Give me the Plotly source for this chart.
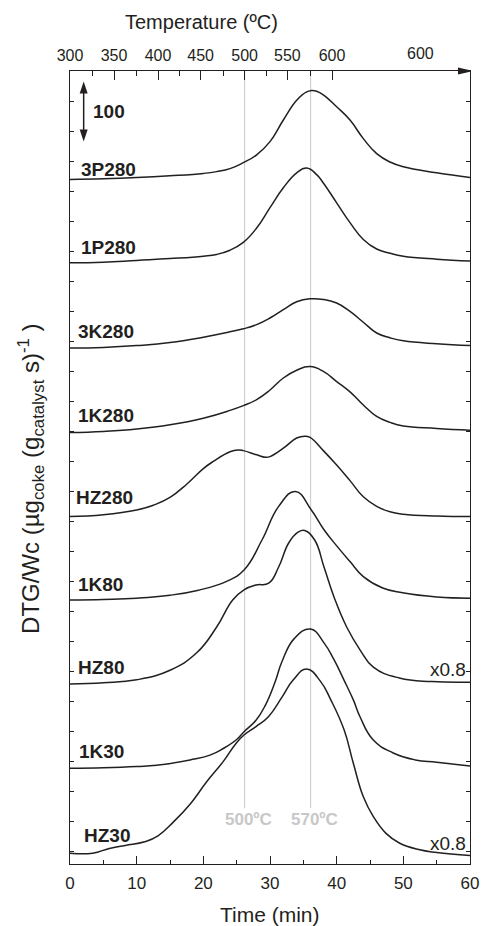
import plotly.graph_objects as go

FONT = "Liberation Sans, Arial, Helvetica, sans-serif"
INK = "#231f20"
GUIDE = "#c8c8c8"

# ---- DTG profiles: time (min) and signal above each curve's own baseline ----
t_3p280 = [0, 5, 10, 15, 20, 22, 24, 26, 28, 30, 32, 34, 35.5, 36.2, 37, 38, 40, 42, 44, 46, 48, 50, 55, 60]
v_3p280 = [0, 1, 3, 6, 10, 13, 18, 28, 41, 63, 99, 132, 146, 148, 147, 141, 121, 99, 68, 43, 29, 21, 11, 3]

t_1p280 = [0, 5, 10, 15, 20, 22, 24, 26, 28, 30, 32, 34, 35.5, 37, 38, 40, 42, 44, 46, 48, 50, 55, 60]
v_1p280 = [0, 1, 4, 7, 11, 14, 21, 34, 58, 92, 125, 150, 158, 147, 133, 100, 67, 39, 23, 16, 11, 6, 3]

t_3k280 = [0, 5, 10, 15, 20, 24, 26, 28, 30, 32, 34, 36, 38, 40, 42, 44, 46, 48, 50, 55, 60]
v_3k280 = [0, 1, 4, 9, 18, 27, 32, 39, 50, 64, 77, 82, 81, 75, 61, 43, 25, 17, 12, 7, 4]

t_1k280 = [0, 5, 10, 15, 20, 24, 26, 28, 30, 32, 34, 36, 38, 40, 42, 44, 46, 48, 50, 55, 60]
v_1k280 = [0, 2, 6, 13, 24, 37, 45, 55, 71, 91, 104, 110, 102, 85, 68, 46, 27, 17, 11, 7, 4]

t_hz280 = [0, 5, 10, 12.5, 15, 17.5, 20, 21.5, 24, 25.2, 26, 28, 29.3, 30, 32, 34, 35.2, 36, 38, 40, 42, 44, 46, 48, 50, 55, 60]
v_hz280 = [0, 3, 11, 19, 32, 54, 80, 92, 108, 111, 110, 103, 99, 100, 114, 131, 134, 132, 110, 86, 60, 33, 17, 8, 4, 1, 0]

t_1k80 = [0, 5, 10, 15, 19.1, 23.5, 26.1, 28.8, 31.3, 33.8, 36.2, 38.1, 40.1, 42, 44, 46.9, 49.9, 55, 60]
v_1k80 = [0, 1, 3, 8, 16, 31, 50, 100, 156, 181, 150, 117, 89, 64, 39, 20, 12, 5, 3]

t_hz80 = [0, 5, 10, 15, 19, 22, 24.4, 26.1, 27.9, 29.8, 31.3, 32.8, 34.2, 35.2, 36.7, 38.1, 39.6, 41.5, 43.5, 45.5, 49.4, 54.3, 60]
v_hz80 = [0, 2, 7, 23, 52, 95, 140, 157, 165, 168, 195, 235, 253, 256, 240, 195, 145, 95, 57, 28, 10, 4, 3]

t_1k30 = [0, 5, 10, 13, 18, 21, 23, 25, 26.1, 27.9, 29.3, 30.8, 31.8, 33.7, 36.1, 38.1, 39.6, 41.1, 42.5, 43.5, 45.5, 48.4, 51.8, 55, 60]
v_1k30 = [0, 1, 3, 5, 14, 22, 33, 48, 61, 80, 105, 145, 178, 217, 232, 209, 181, 147, 114, 86, 47, 26, 14, 10, 4]

t_hz30 = [0, 3.4, 5.9, 8.3, 11.2, 13.2, 15.6, 18.1, 20.5, 23, 24.9, 26.1, 27.9, 29.8, 31.8, 33.5, 35.5, 37.6, 39.1, 41.1, 42.5, 44, 45.5, 47.4, 49.4, 52.3, 55, 60]
v_hz30 = [0, 0, 8, 13, 19, 29, 53, 83, 119, 153, 183, 197, 211, 228, 260, 289, 307, 286, 256, 206, 150, 94, 61, 33, 17, 6, 1, -4]

samples = ["3P280", "1P280", "3K280", "1K280", "HZ280", "1K80", "HZ80", "1K30", "HZ30"]
series_t = [t_3p280, t_1p280, t_3k280, t_1k280, t_hz280, t_1k80, t_hz80, t_1k30, t_hz30]
series_v = [v_3p280, v_1p280, v_3k280, v_1k280, v_hz280, v_1k80, v_hz80, v_1k30, v_hz30]
baselines = [1141, 1002, 860, 719, 579, 440, 300, 159.5, 18]
multipliers = ["", "", "", "", "", "", "x0.8", "", "x0.8"]

# ---- top temperature scale (ramp to 600 ºC, then isothermal hold) ----
temp_labels = ["300", "350", "400", "450", "500", "550", "600"]
temp_tick_t = [0, 6.6, 13.2, 19.6, 26.2, 32.6, 39.3]
temp_minor_t = [3.3, 9.9, 16.4, 23.0, 29.5, 36.1]
hold_label = "600"
hold_t = 52.5

guide_labels = ["500ºC", "570ºC"]
guide_t = [26.2, 36.1]

scale_bar = 100

Y_TOP = 1321.7

# label placement (pixel nudges)
label_dx = [9, 9, 6, 6, 4, 6, 6, 7, 12]
label_dy = [-3, 3, 4, 5, 7, 3, 4, 4, 5]
mult_dy = [0, 0, 0, 0, 0, 0, 2, 0, -2.5]

fig = go.Figure()

for name, t, v, b in zip(samples, series_t, series_v, baselines):
    fig.add_trace(go.Scatter(
        x=t, y=[b + val for val in v], mode="lines", name=name,
        line=dict(color=INK, width=1.5, shape="spline", smoothing=1.3),
        showlegend=False, hoverinfo="skip",
    ))

# carrier for the top temperature axis
fig.add_trace(go.Scatter(x=[0, 60], y=[None, None], xaxis="x2", mode="lines",
                         showlegend=False, hoverinfo="skip"))

shapes = []
annotations = []

# guide lines at 500 and 570 ºC
for lab, gt in zip(guide_labels, guide_t):
    shapes.append(dict(type="line", xref="x", yref="y", x0=gt, x1=gt, y0=93, y1=Y_TOP,
                       line=dict(color=GUIDE, width=1), layer="below"))
    annotations.append(dict(x=gt, y=75, xref="x", yref="y", text="<b>%s</b>" % lab,
                            showarrow=False, xanchor="center", yanchor="middle", xshift=4,
                            font=dict(family=FONT, size=17, color=GUIDE)))

# arrowhead at the end of the top axis
shapes.append(dict(type="path", xref="x", yref="paper", xsizemode="pixel", ysizemode="pixel",
                   xanchor=60, yanchor=1, path="M -12,-3.5 L 3,0 L -12,3.5 Z",
                   fillcolor=INK, line=dict(width=0)))

# vertical scale bar
bar_x = 2.05
bar_top = 1304
bar_bot = bar_top - scale_bar
shapes.append(dict(type="line", xref="x", yref="y", x0=bar_x, x1=bar_x, y0=bar_bot + 8, y1=bar_top - 8,
                   line=dict(color=INK, width=1.5)))
shapes.append(dict(type="path", xref="x", yref="y", xsizemode="pixel", ysizemode="pixel",
                   xanchor=bar_x, yanchor=bar_top, path="M -4,-12 L 0,0 L 4,-12 Z",
                   fillcolor=INK, line=dict(width=0)))
shapes.append(dict(type="path", xref="x", yref="y", xsizemode="pixel", ysizemode="pixel",
                   xanchor=bar_x, yanchor=bar_bot, path="M -4,12 L 0,0 L 4,12 Z",
                   fillcolor=INK, line=dict(width=0)))
annotations.append(dict(x=bar_x, y=(bar_top + bar_bot) / 2, xref="x", yref="y",
                        text="<b>%d</b>" % scale_bar, showarrow=False, xanchor="left",
                        yanchor="middle", xshift=7, font=dict(family=FONT, size=19, color=INK)))

# sample labels and scaling notes
for i, (name, b) in enumerate(zip(samples, baselines)):
    annotations.append(dict(x=0, y=b, xref="x", yref="y", text="<b>%s</b>" % name,
                            showarrow=False, xanchor="left", yanchor="bottom",
                            xshift=label_dx[i], yshift=label_dy[i],
                            font=dict(family=FONT, size=19, color=INK)))
    if multipliers[i]:
        annotations.append(dict(x=1, y=b, xref="paper", yref="y", text=multipliers[i],
                                showarrow=False, xanchor="right", yanchor="bottom",
                                xshift=-2, yshift=mult_dy[i],
                                font=dict(family=FONT, size=19, color=INK)))

# isothermal segment label on the top scale
annotations.append(dict(x=hold_t, y=1, xref="x", yref="paper", text=hold_label, showarrow=False,
                        xanchor="center", yanchor="bottom", yshift=7,
                        font=dict(family=FONT, size=16, color=INK)))

# axis titles
annotations.append(dict(x=0.329, y=1.0614, xref="paper", yref="paper", text="Temperature (ºC)",
                        showarrow=False, xanchor="center", yanchor="middle",
                        font=dict(family=FONT, size=20, color=INK)))
annotations.append(dict(x=0.5, y=-0.0635, xref="paper", yref="paper", text="Time (min)",
                        showarrow=False, xanchor="center", yanchor="middle",
                        font=dict(family=FONT, size=21, color=INK)))
annotations.append(dict(x=-0.0978, y=0.4855, xref="paper", yref="paper", textangle=-90,
                        text="DTG/Wc (µg<sub>coke</sub> (g<sub>catalyst</sub> s)<sup>-1</sup> )",
                        showarrow=False, xanchor="center", yanchor="middle",
                        font=dict(family=FONT, size=24, color=INK)))

fig.update_layout(
    width=489, height=926,
    margin=dict(l=70, r=10, t=71, b=62),
    paper_bgcolor="white", plot_bgcolor="white",
    font=dict(family=FONT, color=INK),
    xaxis=dict(range=[0, 60], tickmode="array", tickvals=list(range(0, 61, 10)),
               ticks="inside", ticklen=8, tickwidth=1, tickcolor=INK,
               minor=dict(dtick=5, tick0=0, ticks="inside", ticklen=4, tickwidth=1, tickcolor=INK),
               showline=True, linecolor=INK, linewidth=1, showgrid=False, zeroline=False,
               tickfont=dict(family=FONT, size=17, color=INK), ticklabelstandoff=4),
    xaxis2=dict(overlaying="x", side="top", range=[0, 60], tickmode="array",
                tickvals=temp_tick_t, ticktext=temp_labels,
                ticks="inside", ticklen=9, tickwidth=1, tickcolor=INK,
                minor=dict(tickmode="array", tickvals=temp_minor_t, ticks="inside",
                           ticklen=5, tickwidth=1, tickcolor=INK),
                showline=True, linecolor=INK, linewidth=1, showgrid=False, zeroline=False,
                tickfont=dict(family=FONT, size=16, color=INK), ticklabelstandoff=3),
    yaxis=dict(range=[0, Y_TOP], showticklabels=False, ticks="inside", tick0=20.5, dtick=50,
               ticklen=4, tickwidth=1, tickcolor=INK, showline=True, linecolor=INK,
               linewidth=1, mirror="ticks", showgrid=False, zeroline=False),
    shapes=shapes,
    annotations=annotations,
)

fig.write_html("out.html")
